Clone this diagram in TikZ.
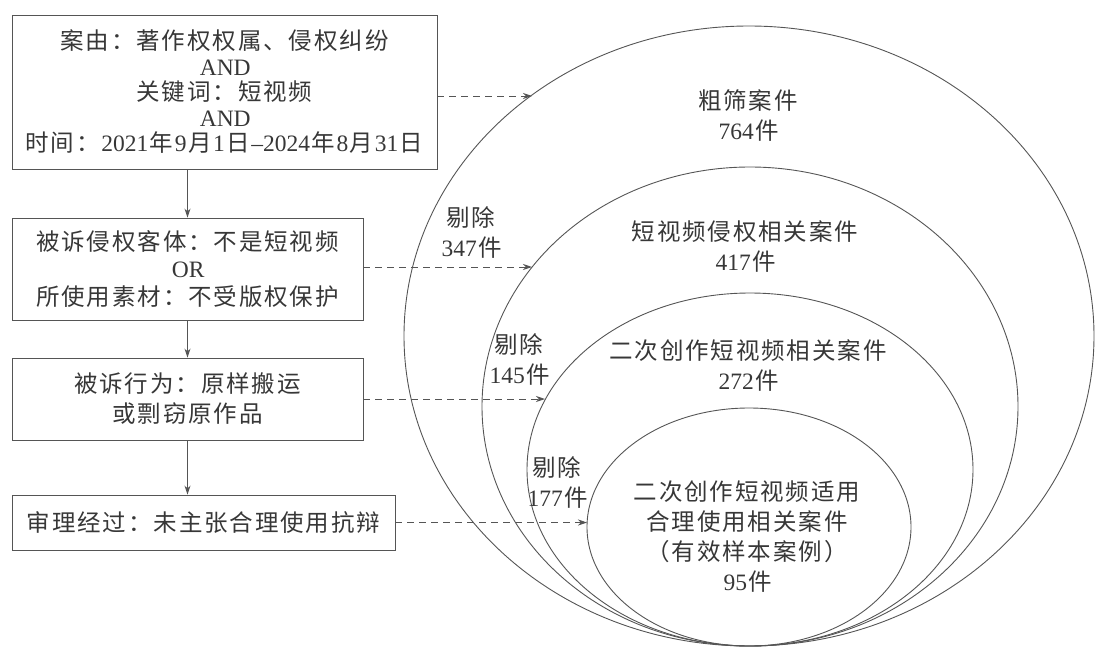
\documentclass[tikz,border=0pt]{standalone}
\usepackage{fontspec}
\setmainfont{Liberation Serif}
\newfontfamily\cjk[LetterSpace=8]{Noto Sans CJK SC}
\usetikzlibrary{arrows.meta}
\definecolor{inkgray}{RGB}{55,55,55}
\definecolor{linegray}{RGB}{85,85,85}
\newcommand{\lat}[1]{\hspace{1.5pt}{\rmfamily #1}\hspace{1.5pt}}

\begin{document}
\begin{tikzpicture}[x=1pt, y=-1pt,
    txt/.style={font=\cjk\fontsize{23.5}{#1}\selectfont, text=inkgray, align=center, inner sep=0pt},
    txt/.default=30,
    filterbox/.style={draw=linegray, line width=0.9pt},
    flow/.style={draw=linegray, line width=0.9pt, -{Stealth[length=9pt, width=6pt]}},
    cut/.style={flow, dash pattern=on 7pt off 5pt}]
    \useasboundingbox (0,0) rectangle (1104,651);

    % Screening steps
    \node[txt=25.5, filterbox, minimum width=425pt, minimum height=154pt] (cause) at (224.5,92)
        {案由：著作权权属、侵权纠纷\\\lat{AND}\\关键词：短视频\\\lat{AND}\\时间：\lat{2021}年\lat{9}月\lat{1}日\lat{–2024}年\lat{8}月\lat{31}日};
    \node[txt=27.5, filterbox, minimum width=351pt, minimum height=102pt] (object) at (187.5,269)
        {被诉侵权客体：不是短视频\\\lat{OR}\\所使用素材：不受版权保护};
    \node[txt=30, filterbox, minimum width=351pt, minimum height=82pt] (act) at (187.5,399)
        {被诉行为：原样搬运\\或剽窃原作品};
    \node[txt, filterbox, minimum width=383pt, minimum height=55pt] (trial) at (203.5,522.5)
        {审理经过：未主张合理使用抗辩};

    % Case sets
    \draw[linegray, line width=0.9pt] (749,336) ellipse [x radius=345, y radius=310];
    \draw[linegray, line width=0.9pt] (750,406.5) ellipse [x radius=268, y radius=239.5];
    \draw[linegray, line width=0.9pt] (750,469.5) ellipse [x radius=223, y radius=176.5];
    \draw[linegray, line width=0.9pt] (749,527) ellipse [x radius=162, y radius=119];

    \node[txt] (rough) at (748,115) {粗筛案件\\\lat{764}件};
    \node[txt] (related) at (745,246) {短视频侵权相关案件\\\lat{417}件};
    \node[txt] (derived) at (748,365) {二次创作短视频相关案件\\\lat{272}件};
    \node[txt] (fairuse) at (747,537) {二次创作短视频适用\\合理使用相关案件\\（有效样本案例）\\\lat{95}件};

    % Removed counts
    \node[txt] (drop1) at (471,232) {剔除\\\lat{347}件};
    \node[txt] (drop2) at (519,359) {剔除\\\lat{145}件};
    \node[txt] (drop3) at (557,482) {剔除\\\lat{177}件};

    % Arrow ends on the ellipses
    \coordinate (in1) at (532,96);
    \coordinate (in2) at (532,267);
    \coordinate (in3) at (545,399);
    \coordinate (in4) at (587,522.5);

    % Connectors
    \draw[flow] (cause.south -| object.north) -- (object.north);
    \draw[flow] (object.south) -- (act.north);
    \draw[flow] (act.south) -- (act.south |- trial.north);
    \draw[cut] ([yshift=-4pt]cause.east) -- (in1);
    \draw[cut] (object.east |- in2) -- (in2);
    \draw[cut] (act.east) -- (in3);
    \draw[cut] (trial.east) -- (in4);
\end{tikzpicture}
\end{document}
